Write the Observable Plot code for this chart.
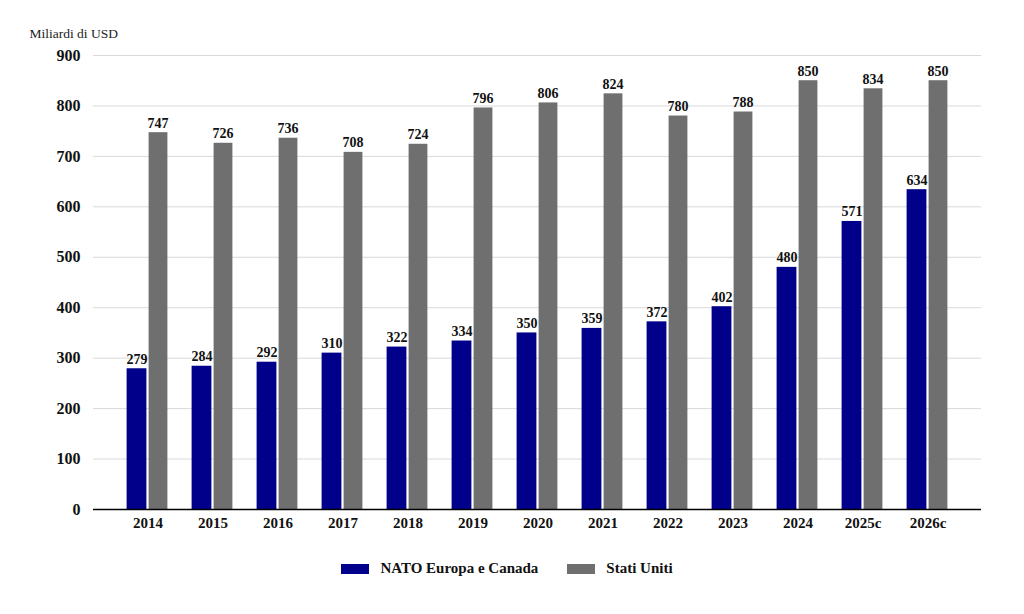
<!DOCTYPE html>
<html>
<head>
<meta charset="utf-8">
<script src="https://cdn.jsdelivr.net/npm/d3@7"></script>
<script src="https://cdn.jsdelivr.net/npm/@observablehq/plot@0.6"></script>
<style>
  body { margin: 0; background: #fff; font-family: "Liberation Serif", "Times New Roman", "DejaVu Serif", serif; }
  #chart svg { display: block; }
  #chart svg text { font-family: "Liberation Serif", "Times New Roman", "DejaVu Serif", serif; }
  .legend { display: flex; justify-content: center; align-items: center; gap: 29px; margin-top: 12px; padding-right: 10px; font-family: "Liberation Serif", "Times New Roman", serif; font-weight: bold; font-size: 15px; color: #111; }
  .legend span.item { display: flex; align-items: center; gap: 11px; }
  .legend i { display: inline-block; width: 28px; height: 10px; }
</style>
</head>
<body>
<div id="chart"></div>
<div class="legend" id="legend"></div>
<script>
const years = ["2014","2015","2016","2017","2018","2019","2020","2021","2022","2023","2024","2025c","2026c"];
const nato = [279,284,292,310,322,334,350,359,372,402,480,571,634];
const usa  = [747,726,736,708,724,796,806,824,780,788,850,834,850];
const seriesNames = ["NATO Europa e Canada", "Stati Uniti"];
const seriesColors = ["#00008b", "#6f6f6f"];
const yTicks = [0,100,200,300,400,500,600,700,800,900];
const yLabel = "Miliardi di USD";

const natoData = years.map((y, i) => ({year: y, value: nato[i]}));
const usaData = years.map((y, i) => ({year: y, value: usa[i]}));

const font = "'Liberation Serif', 'Times New Roman', 'DejaVu Serif', serif";

const chart = Plot.plot({
  width: 1024,
  height: 548,
  marginLeft: 93,
  marginRight: 43,
  marginTop: 55,
  marginBottom: 39,
  style: {fontFamily: font, background: "#fff"},
  x: {domain: years, padding: 0, inset: 20, label: null},
  y: {domain: [0, 900], label: null},
  marks: [
    Plot.ruleY(yTicks.filter(d => d > 0), {stroke: "#d9d9d9", strokeWidth: 1}),
    Plot.barY(natoData, {x: "year", y: "value", fill: seriesColors[0], insetLeft: 11.6, insetRight: 33.6}),
    Plot.barY(usaData, {x: "year", y: "value", fill: seriesColors[1], insetLeft: 33.6, insetRight: 12.6}),
    Plot.ruleY([0], {stroke: "#000", strokeWidth: 1.5}),
    Plot.text(natoData, {x: "year", y: "value", text: d => String(d.value), dx: -11, dy: -5, lineAnchor: "bottom", fontSize: 14, fontWeight: "bold", fill: "#111", fontFamily: font}),
    Plot.text(usaData, {x: "year", y: "value", text: d => String(d.value), dx: 10, dy: -5, lineAnchor: "bottom", fontSize: 14, fontWeight: "bold", fill: "#111", fontFamily: font}),
    Plot.axisY({ticks: yTicks, tickSize: 0, tickPadding: 13, tickFormat: d => String(d), fontSize: 16, fontWeight: "bold", label: null, color: "#111", fontFamily: font}),
    Plot.axisX({tickSize: 0, tickPadding: 8, fontSize: 15, fontWeight: "bold", label: null, color: "#111", fontFamily: font}),
    Plot.text([yLabel], {frameAnchor: "top-left", text: d => d, dx: -64, dy: -27, textAnchor: "start", fontSize: 13.5, fill: "#222", fontFamily: font})
  ]
});
document.getElementById("chart").appendChild(chart);

const legend = document.getElementById("legend");
seriesNames.forEach((name, i) => {
  const item = document.createElement("span");
  item.className = "item";
  const sw = document.createElement("i");
  sw.style.background = seriesColors[i];
  item.appendChild(sw);
  item.appendChild(document.createTextNode(name));
  legend.appendChild(item);
});
</script>
</body>
</html>
